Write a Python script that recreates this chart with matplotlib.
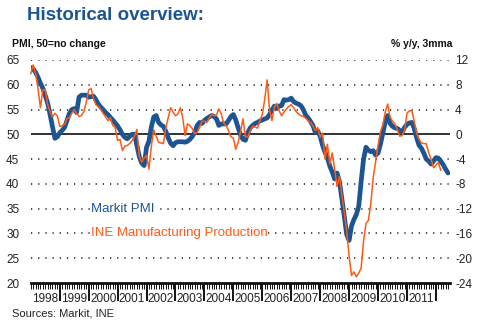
import numpy as np
import matplotlib
import matplotlib.pyplot as plt
import matplotlib.transforms as mtransforms

matplotlib.use('Agg')
plt.rcParams['font.family'] = ['Liberation Sans', 'DejaVu Sans']

# Markit Spain manufacturing PMI, monthly from Jan 1998 (50 = no change)
pmi = [63.5, 63.2, 62.5, 61.5, 60.3, 59.3, 57.8, 56.3, 54.0, 51.5, 49.2, 49.5,
       50.3, 50.8, 51.4, 52.8, 54.2, 55.0, 55.2, 54.4, 57.5, 57.9, 57.9, 57.9,
       57.5, 57.6, 57.7, 57.0, 56.1, 55.5, 55.0, 54.4, 54.0, 53.4, 52.9, 52.3,
       51.7, 50.9, 50.0, 49.4, 49.1, 49.6, 50.0, 50.0, 47.7, 45.5, 44.2, 43.7,
       47.4, 48.6, 51.5, 53.5, 53.8, 52.4, 51.9, 51.6, 50.6, 49.3, 48.2, 47.7,
       48.3, 48.5, 48.5, 48.5, 48.4, 48.6, 49.0, 49.6, 50.4, 51.8, 52.4, 52.2,
       52.8, 53.2, 53.5, 53.8, 53.6, 53.1, 51.8, 52.1, 52.1, 52.1, 52.8, 53.6,
       54.0, 52.9, 51.3, 49.8, 49.0, 48.8, 50.3, 51.3, 51.8, 52.2, 52.4, 52.7,
       52.9, 53.1, 53.3, 54.0, 54.9, 55.7, 55.2, 55.7, 55.8, 57.0, 56.9, 57.0,
       57.3, 56.6, 56.3, 56.1, 55.8, 55.0, 53.9, 53.3, 52.6, 51.8, 50.4, 50.7,
       49.6, 47.8, 46.4, 45.3, 43.6, 42.4, 41.0, 42.2, 40.5, 37.0, 33.5, 29.8,
       28.6, 31.5, 32.8, 33.8, 35.5, 40.5, 45.0, 47.4, 46.8, 46.5, 46.7, 45.8,
       46.2, 48.0, 50.3, 52.5, 53.8, 52.2, 51.6, 51.3, 51.2, 50.8, 50.4, 51.4,
       52.0, 52.3, 52.4, 51.2, 49.3, 47.8, 47.2, 46.2, 45.0, 44.6, 44.0, 44.6,
       45.3, 45.2, 44.6, 43.9, 43.0, 42.2]

# INE manufacturing production, % y/y 3mma, monthly from Jan 1998
ine = [9.8, 11.2, 9.8, 7.4, 4.3, 7.2, 7.2, 4.8, 3.6, 2.8, 3.4, 3.0,
       1.3, 1.4, 1.6, 2.5, 2.7, 3.4, 4.0, 3.4, 2.9, 3.0, 3.7, 5.2,
       7.2, 7.4, 5.8, 4.8, 4.5, 4.0, 3.4, 2.8, 2.2, 2.7, 1.4, 1.1,
       -1.0, -0.8, -2.6, -1.9, -1.8, -1.5, -1.0, -0.3, 0.8, -3.5, -4.5, -3.8,
       -3.4, -5.6, -1.9, 0.7, -0.3, -1.3, -1.4, -1.5, 1.1, 2.7, 4.3, 3.6,
       3.0, 3.3, 4.3, 2.7, -0.2, 1.7, 1.4, 0.9, 0.1, 0.3, 1.1, 2.1,
       2.1, 1.9, 2.6, 3.2, 3.0, 3.1, 4.1, 3.3, 1.8, 1.4, 0.6, -0.4,
       -0.6, -2.4, -1.3, 0.5, 2.5, -0.4, -0.4, 0.6, 1.3, 1.2, 1.0, 2.2,
       3.2, 5.6, 8.8, 4.0, 2.2, 4.4, 5.0, 3.8, 3.0, 3.6, 4.1, 4.5,
       4.8, 4.3, 3.7, 3.3, 3.0, 2.9, 2.6, 2.2, 1.9, 1.4, 0.6, 1.1,
       -0.5, 0.2, -4.0, -1.6, -4.8, -3.0, -5.6, -8.4, -6.8, -9.8, -12.6, -15.6,
       -19.6, -22.8, -22.2, -23.0, -22.4, -21.6, -17.2, -14.4, -13.9, -11.2, -7.0, -4.4,
       -1.8, 0.4, 1.5, 3.6, 4.9, 2.8, 2.1, 1.7, 0.8, -0.3, -0.2, 0.6,
       3.4, 3.8, 3.8, 2.1, 0.2, -0.8, -1.4, -1.5, -1.5, -3.0, -4.0, -5.4,
       -5.0, -4.5, -5.8]

year_labels = ['1998', '1999', '2000', '2001', '2002', '2003', '2004',
               '2005', '2006', '2007', '2008', '2009', '2010', '2011']
left_ticks = [20, 25, 30, 35, 40, 45, 50, 55, 60, 65]
right_ticks = [-24, -20, -16, -12, -8, -4, 0, 4, 8, 12]

BLUE = '#1c5592'
ORANGE = '#ff5a14'
TXT = '#222222'

t_pmi = 1998 + np.arange(len(pmi)) / 12.0
t_ine = 1998 + np.arange(len(ine)) / 12.0

fig = plt.figure(figsize=(4.94, 3.24), dpi=100)
ax = fig.add_axes([30.5 / 494, 1 - 283 / 324, 419 / 494, 223 / 324])
ax2 = ax.twinx()

ax.set_xlim(1997.99, 2012.47)
ax.set_ylim(20, 65)
ax2.set_ylim(-24, 12)

# dotted grid + solid 50 line
for lv in left_ticks[1:]:
    ax.axhline(lv, color='#111111', lw=1.1, ls=(0, (0.8, 3.9)), zorder=1)
ax.axhline(50, color='#333333', lw=1.4, zorder=1.5)

ax.plot(t_pmi, pmi, color=BLUE, lw=3.4, solid_capstyle='round', zorder=3)
ax2.plot(t_ine, ine, color=ORANGE, lw=1.1, zorder=4)

for a in (ax, ax2):
    for s in ('top', 'left', 'right'):
        a.spines[s].set_visible(False)
ax2.spines['bottom'].set_visible(False)
ax.spines['bottom'].set_linewidth(2.0)
ax.spines['bottom'].set_color('#111111')

ax.set_yticks(left_ticks)
ax.set_yticklabels([str(v) for v in left_ticks])
ax.tick_params(axis='y', length=0, pad=8, labelsize=8.5, labelcolor=TXT)
ax2.set_yticks(right_ticks)
ax2.set_yticklabels([str(v) for v in right_ticks])
ax2.tick_params(axis='y', length=0, pad=4, labelsize=8.5, labelcolor=TXT)

# x axis: monthly comb + long year ticks
ax.set_xticks(np.arange(1999, 2013), labels=[])
ax.set_xticks(np.arange(1998, 2012.46, 1 / 12.0), minor=True)
ax.tick_params(axis='x', which='major', direction='out', length=13,
               width=1.4, color='#111111')
ax.tick_params(axis='x', which='minor', direction='out', length=4,
               width=0.7, color='#111111')
trans = mtransforms.blended_transform_factory(ax.transData, ax.transAxes)
for i, lab in enumerate(year_labels):
    ax.text(1998.5 + i, -0.072, lab, transform=trans, ha='center',
            va='center', fontsize=8.5, color=TXT)

ax.text(2000.08, 35, 'Markit PMI', color=BLUE, fontsize=9.5, va='center',
        ha='left', zorder=5,
        bbox=dict(facecolor='white', edgecolor='none', pad=0.5))
ax.text(2000.08, 30, 'INE Manufacturing Production', color=ORANGE,
        fontsize=9.5, va='center', ha='left', zorder=5,
        bbox=dict(facecolor='white', edgecolor='none', pad=0.5))

fig.text(27 / 494, 1 - 15 / 324, 'Historical overview:', color=BLUE,
         fontsize=13.5, fontweight='bold', va='center', ha='left')
fig.text(12 / 494, 1 - 44 / 324, 'PMI, 50=no change', color='#111111',
         fontsize=7.5, fontweight='bold', va='center', ha='left')
fig.text(452 / 494, 1 - 44 / 324, '% y/y, 3mma', color='#111111',
         fontsize=7.5, fontweight='bold', va='center', ha='right')
fig.text(12 / 494, 1 - 313 / 324, 'Sources: Markit, INE', color=TXT,
         fontsize=8, va='center', ha='left')

fig.savefig('out.png', dpi=100)
